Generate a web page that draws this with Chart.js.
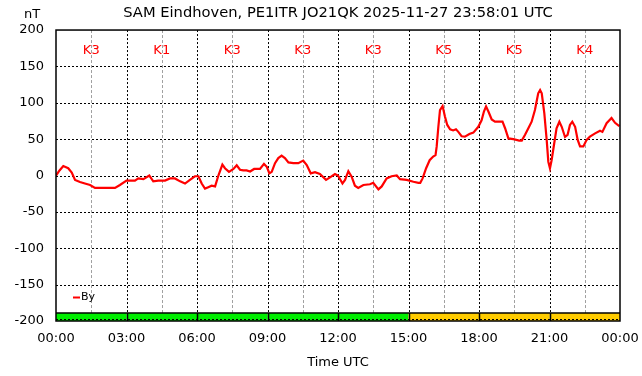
<!DOCTYPE html>
<html>
<head>
<meta charset="utf-8">
<script src="https://cdn.jsdelivr.net/npm/chart.js@4"></script>
<style>
  body { margin: 0; background: #fff; }
  #wrap { width: 642px; height: 376px; position: relative; }
</style>
</head>
<body>
<div id="wrap"><canvas id="samChart"></canvas></div>
<script>
// magnetometer By readings, hours since 00:00 UTC
const hours = [
  0.00, 0.15, 0.31, 0.52, 0.67, 0.81, 1.02, 1.23, 1.45, 1.66, 2.00, 2.51, 2.72, 3.00, 3.36, 3.50,
  3.72, 3.97, 4.14, 4.35, 4.64, 4.85, 5.06, 5.28, 5.49, 5.70, 5.91, 6.06, 6.20, 6.34, 6.48, 6.62,
  6.77, 6.91, 7.08, 7.19, 7.36, 7.55, 7.69, 7.83, 7.97, 8.11, 8.26, 8.43, 8.68, 8.85, 8.97, 9.08,
  9.18, 9.32, 9.46, 9.60, 9.74, 9.89, 10.10, 10.31, 10.52, 10.67, 10.84, 11.02, 11.23, 11.49, 11.66, 11.87,
  12.00, 12.19, 12.30, 12.44, 12.58, 12.72, 12.86, 13.08, 13.36, 13.50, 13.72, 13.86, 14.07, 14.28, 14.50, 14.64,
  14.92, 15.21, 15.42, 15.50, 15.60, 15.75, 15.90, 16.05, 16.15, 16.20, 16.27, 16.34, 16.45, 16.55, 16.65, 16.77,
  16.90, 17.02, 17.12, 17.26, 17.40, 17.59, 17.76, 17.97, 18.11, 18.21, 18.30, 18.40, 18.54, 18.68, 18.89, 19.00,
  19.11, 19.25, 19.46, 19.71, 19.82, 19.96, 20.10, 20.24, 20.38, 20.52, 20.60, 20.67, 20.78, 20.88, 20.95, 21.02,
  21.09, 21.20, 21.30, 21.42, 21.52, 21.66, 21.77, 21.87, 21.97, 22.09, 22.20, 22.30, 22.44, 22.58, 22.72, 22.94,
  23.15, 23.25, 23.43, 23.64, 23.79, 23.97
];
const byValues = [
  0, 7, 13, 10, 4, -6, -9, -11, -13, -17, -17, -17, -13, -7, -7, -4,
  -5, 0, -8, -7, -7, -4, -4, -8, -11, -6, -1, -1, -11, -18, -16, -14,
  -15, 0, 15, 10, 5, 9, 14, 8, 7, 7, 5.5, 9, 9, 16, 12, 3,
  5, 17, 24, 27.5, 24, 18, 17, 17, 20.5, 14.5, 3, 4.5, 2, -6, -2.5, 2,
  0, -11, -6, 6, -1.5, -14, -17, -13, -12, -10, -19, -15, -4, -1, 0, -5,
  -6, -8.5, -10, -10, -4, 10, 21, 26, 28, 40, 67, 90, 95.5, 81, 69.5, 63.5,
  62, 63.5, 60, 54, 53.5, 57, 59, 67, 76, 88, 95, 88, 77, 74, 74, 74,
  65, 51, 50, 48, 48, 56, 65, 74, 90, 113, 117.5, 113, 85.5, 49, 19, 10,
  21, 44, 65, 74, 67, 53, 56, 69.5, 74, 67, 49, 40, 40, 49, 53.5, 58,
  61.5, 60, 72, 79, 72.5, 68
];
// K index per 3 hour block
const kIndex = [3, 1, 3, 3, 3, 5, 5, 4];
const xTickLabels = ["00:00", "03:00", "06:00", "09:00", "12:00", "15:00", "18:00", "21:00", "00:00"];

const FONT = "DejaVu Sans";

// grid, K labels, K colour bar, frame and legend
const samOverlay = {
  id: "samOverlay",
  beforeDatasetsDraw(chart) {
    const { ctx, chartArea: a, scales: { x, y } } = chart;
    ctx.save();
    ctx.lineWidth = 1;
    // half-block gray lines
    ctx.strokeStyle = "#a0a0a0";
    ctx.setLineDash([3, 2]);
    for (let h = 1.5; h < 24; h += 3) {
      const px = Math.round(x.getPixelForValue(h)) + 0.5;
      ctx.beginPath(); ctx.moveTo(px, a.top); ctx.lineTo(px, a.bottom); ctx.stroke();
    }
    // major dotted lines
    ctx.strokeStyle = "#000";
    ctx.setLineDash([2, 2]);
    for (let h = 3; h < 24; h += 3) {
      const px = Math.round(x.getPixelForValue(h)) + 0.5;
      ctx.beginPath(); ctx.moveTo(px, a.top); ctx.lineTo(px, a.bottom); ctx.stroke();
    }
    for (let v = -150; v <= 150; v += 50) {
      const py = Math.round(y.getPixelForValue(v)) + 0.5;
      ctx.beginPath(); ctx.moveTo(a.left, py); ctx.lineTo(a.right, py); ctx.stroke();
    }
    ctx.restore();
  },
  afterDatasetsDraw(chart) {
    const { ctx, chartArea: a, scales: { x, y } } = chart;
    ctx.save();
    // K colour bar
    const top = y.getPixelForValue(-189);
    const bot = y.getPixelForValue(-200);
    kIndex.forEach((k, i) => {
      const x0 = x.getPixelForValue(i * 3);
      const x1 = x.getPixelForValue(i * 3 + 3);
      ctx.fillStyle = k < 4 ? "#00ee00" : "#ffcc00";
      ctx.fillRect(x0, top, x1 - x0, bot - top);
    });
    ctx.strokeStyle = "#000";
    ctx.lineWidth = 1.5;
    ctx.beginPath(); ctx.moveTo(a.left, top); ctx.lineTo(a.right, top); ctx.stroke();
    for (let i = 1; i < kIndex.length; i++) {
      const px = Math.round(x.getPixelForValue(i * 3)) + 0.5;
      ctx.beginPath(); ctx.moveTo(px, top); ctx.lineTo(px, bot); ctx.stroke();
    }
    ctx.lineWidth = 1;
    ctx.setLineDash([2, 2]);
    const dy = Math.round(y.getPixelForValue(-197.5)) + 0.5;
    ctx.beginPath(); ctx.moveTo(a.left, dy); ctx.lineTo(a.right, dy); ctx.stroke();
    ctx.setLineDash([]);

    // frame
    ctx.lineWidth = 1.5;
    ctx.strokeRect(a.left, a.top, a.right - a.left, a.bottom - a.top);

    // K labels
    ctx.fillStyle = "#ff0000";
    ctx.font = `13px "${FONT}"`;
    ctx.textAlign = "center";
    ctx.textBaseline = "middle";
    kIndex.forEach((k, i) => {
      ctx.fillText("K" + k, x.getPixelForValue(i * 3 + 1.5), y.getPixelForValue(172));
    });

    // legend
    const ly = Math.round(y.getPixelForValue(-167)) + 0.5;
    ctx.strokeStyle = "#ff0000";
    ctx.lineWidth = 2;
    ctx.beginPath(); ctx.moveTo(a.left + 17, ly); ctx.lineTo(a.left + 24, ly); ctx.stroke();
    ctx.fillStyle = "#000";
    ctx.font = `11px "${FONT}"`;
    ctx.textAlign = "left";
    ctx.fillText(chart.data.datasets[0].label, a.left + 25, ly);

    // unit
    ctx.font = `13px "${FONT}"`;
    ctx.textAlign = "center";
    ctx.fillText("nT", 32, 15);
    ctx.restore();
  },
};

new Chart(document.getElementById("samChart"), {
  type: "line",
  data: {
    datasets: [
      {
        label: "By",
        data: hours.map((h, i) => ({ x: h, y: byValues[i] })),
        borderColor: "#ff0000",
        borderWidth: 2.2,
        pointRadius: 0,
        tension: 0,
        fill: false,
      },
    ],
  },
  options: {
    responsive: true,
    maintainAspectRatio: false,
    animation: false,
    layout: { padding: { left: 0, right: 22, top: 0, bottom: 0 } },
    plugins: {
      legend: { display: false },
      tooltip: { enabled: false },
      title: {
        display: true,
        text: "SAM Eindhoven, PE1ITR JO21QK 2025-11-27 23:58:01 UTC",
        color: "#000",
        fullSize: false,
        font: { family: FONT, size: 14.7, weight: "normal" },
        padding: { top: 4, bottom: 8.4 },
      },
    },
    scales: {
      x: {
        type: "linear",
        min: 0,
        max: 24,
        grid: { display: false, drawTicks: false },
        border: { display: false },
        afterFit: (s) => { s.height = 55; s.paddingLeft = 0; s.paddingRight = 0; },
        ticks: {
          stepSize: 3,
          color: "#000",
          padding: 10,
          maxRotation: 0,
          font: { family: FONT, size: 13 },
          callback: (v) => xTickLabels[v / 3],
        },
        title: {
          display: true,
          text: "Time UTC",
          color: "#000",
          font: { family: FONT, size: 13 },
          padding: { top: 0, bottom: 6 },
        },
      },
      y: {
        min: -200,
        max: 200,
        grid: { display: false, drawTicks: false },
        border: { display: false },
        afterFit: (s) => { s.width = 56; s.paddingTop = 0; s.paddingBottom = 0; },
        ticks: {
          stepSize: 50,
          color: "#000",
          padding: 12,
          font: { family: FONT, size: 13 },
        },
      },
    },
  },
  plugins: [samOverlay],
});
</script>
</body>
</html>
